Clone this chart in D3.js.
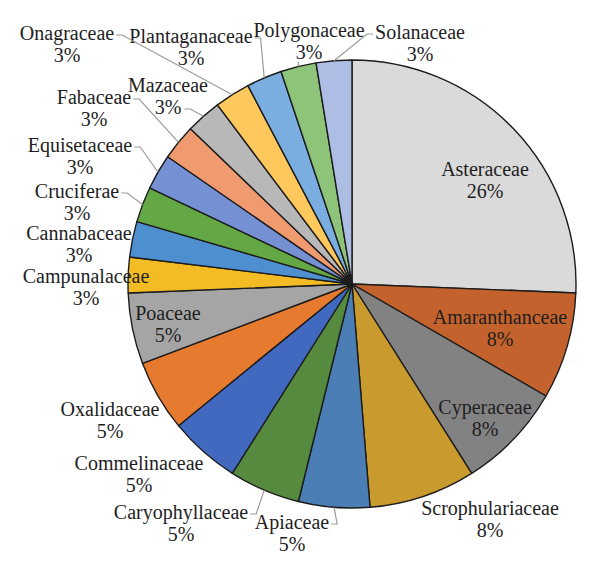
<!DOCTYPE html>
<html>
<head>
<meta charset="utf-8">
<script src="https://cdn.jsdelivr.net/npm/d3@7"></script>
<style>
  body { margin: 0; background: #fff; }
  text { font-family: "Liberation Serif", "DejaVu Serif", serif; fill: #1e1e1e; }
</style>
</head>
<body>
<svg></svg>
<script>
let width = 600;
let height = 572;

// species counts per family, clockwise from 12 o'clock
let families = ['Asteraceae', 'Amaranthanceae', 'Cyperaceae', 'Scrophulariaceae', 'Apiaceae',
  'Caryophyllaceae', 'Commelinaceae', 'Oxalidaceae', 'Poaceae', 'Campunalaceae', 'Cannabaceae',
  'Cruciferae', 'Equisetaceae', 'Fabaceae', 'Mazaceae', 'Onagraceae', 'Plantaganaceae',
  'Polygonaceae', 'Solanaceae'];
let counts = [10, 3, 3, 3, 2, 2, 2, 2, 2, 1, 1, 1, 1, 1, 1, 1, 1, 1, 1];
let colors = ['#dadada', '#c4622d', '#828282', '#c99a2e', '#4a7eb4', '#568a3f', '#4169bf',
  '#e67b30', '#a5a5a5', '#f3bc25', '#4e8fd0', '#64a745', '#7590d3', '#f09a70', '#b8b8b8',
  '#ffc85c', '#7aaee0', '#8ec47a', '#aebde3'];

// label layout: centre of first text line, and where the leader starts
let labelPos = {
  Asteraceae: [485, 169], Amaranthanceae: [500, 317], Cyperaceae: [485, 407],
  Scrophulariaceae: [490, 508], Apiaceae: [292, 522], Caryophyllaceae: [181, 512],
  Commelinaceae: [139, 463], Oxalidaceae: [110, 409], Poaceae: [168, 313],
  Campunalaceae: [86, 276], Cannabaceae: [79, 233], Cruciferae: [77, 191],
  Equisetaceae: [80, 145], Fabaceae: [94, 97], Mazaceae: [168, 85],
  Onagraceae: [67, 33], Plantaganaceae: [191, 36], Polygonaceae: [309, 30],
  Solanaceae: [420, 32]
};
let leaderMode = {
  Solanaceae: 'left', Polygonaceae: 'down', Plantaganaceae: 'right', Onagraceae: 'right',
  Mazaceae: 'right2', Fabaceae: 'right', Equisetaceae: 'right', Cruciferae: 'right',
  Caryophyllaceae: 'right', Apiaceae: 'right'
};

let cx = 352;
let cy = 284;
let radius = 224;
let lineGap = 22;

let total = d3.sum(counts);
let data = families.map((f, i) => ({ name: f, count: counts[i], color: colors[i] }));

let pie = d3.pie().sort(null).value(d => d.count);
let arcs = pie(data);
let arc = d3.arc().innerRadius(0).outerRadius(radius);
let edgeArc = d3.arc().innerRadius(radius).outerRadius(radius);

let svg = d3.select('svg')
  .attr('width', width)
  .attr('height', height);

let chart = svg.append('g')
  .attr('transform', `translate(${cx}, ${cy})`);

chart.selectAll('.slice')
  .data(arcs)
  .enter()
  .append('path')
    .attr('class', 'slice')
    .attr('d', arc)
    .attr('fill', d => d.data.color)
    .attr('stroke', '#1c1c1c')
    .attr('stroke-width', 1.4)
    .attr('stroke-linejoin', 'round');

let labels = svg.selectAll('.label')
  .data(arcs)
  .enter()
  .append('text')
    .attr('class', 'label')
    .attr('text-anchor', 'middle')
    .style('font-size', '20px');

labels.append('tspan')
  .attr('x', d => labelPos[d.data.name][0])
  .attr('y', d => labelPos[d.data.name][1])
  .attr('dy', '0.35em')
  .text(d => d.data.name);

labels.append('tspan')
  .attr('x', d => labelPos[d.data.name][0])
  .attr('y', d => labelPos[d.data.name][1] + lineGap)
  .attr('dy', '0.35em')
  .text(d => Math.round(d.data.count / total * 100) + '%');

// leader lines from label to the slice edge
labels.each(function(d) {
  let mode = leaderMode[d.data.name];
  if (!mode) return;
  let spans = d3.select(this).selectAll('tspan').nodes();
  let [lx, ly] = labelPos[d.data.name];
  let edge = edgeArc.centroid(d);
  let ex = cx + edge[0];
  let ey = cy + edge[1];
  let pts;
  if (mode === 'right') {
    let w = spans[0].getComputedTextLength();
    let sx = lx + w / 2 + 2;
    pts = [[sx, ly + 2], [sx + 6, ly + 2], [ex, ey]];
  } else if (mode === 'right2') {
    let w = spans[1].getComputedTextLength();
    let sx = lx + w / 2 + 3;
    pts = [[sx, ly + lineGap + 2], [sx + 6, ly + lineGap + 2], [ex, ey]];
  } else if (mode === 'left') {
    let w = spans[0].getComputedTextLength();
    let sx = lx - w / 2 - 2;
    pts = [[sx, ly + 2], [sx - 6, ly + 2], [ex, ey]];
  } else {
    pts = [[ex, ly + lineGap + 10], [ex, ey]];
  }
  svg.append('path')
    .attr('d', d3.line()(pts))
    .attr('fill', 'none')
    .attr('stroke', '#9a9a9a')
    .attr('stroke-width', 1.2);
});
</script>
</body>
</html>
